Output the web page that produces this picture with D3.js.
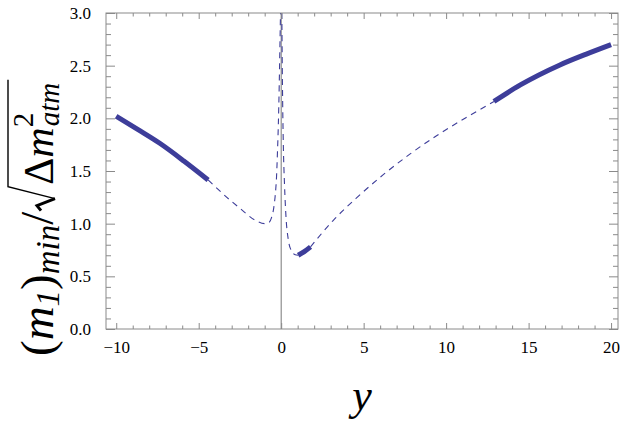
<!DOCTYPE html>
<html>
<head>
<meta charset="utf-8">
<script src="https://cdn.jsdelivr.net/npm/d3@7"></script>
<style>
  body { margin: 0; background: #fff; }
  svg { display: block; }
  svg text { font-family: "Liberation Serif", "Times New Roman", "DejaVu Serif", serif; }
</style>
</head>
<body>
<script>
// Declare consts
const width = 620;
const height = 426;
const plotLeft = 106, plotRight = 618, plotTop = 13, plotBottom = 329;
const serif = "'Liberation Serif', 'Times New Roman', 'DejaVu Serif', serif";

// Data, split into solid (thick) and dashed pieces
const solid1X = [-10, -8.7, -7.36, -5.9, -4.43];
const solid1Y = [2.02, 1.895, 1.763, 1.595, 1.415];

const dash1X = [-4.43, -3.11, -2.5, -1.6, -1.0, -0.75, -0.58, -0.45, -0.36, -0.28, -0.22, -0.17, -0.12, -0.08, -0.04];
const dash1Y = [1.415, 1.225, 1.146, 1.035, 1.0, 1.01, 1.06, 1.15, 1.27, 1.45, 1.70, 1.95, 2.3, 2.65, 3.0];

const dash2X = [0.04, 0.06, 0.09, 0.13, 0.2, 0.29, 0.43, 0.63, 0.85, 1.03];
const dash2Y = [3.0, 2.6, 2.15, 1.75, 1.38, 1.07, 0.85, 0.74, 0.705, 0.70];

const solid2X = [1.03, 1.4, 1.78];
const solid2Y = [0.70, 0.735, 0.78];

const dash3X = [1.78, 3.15, 4.57, 6.19, 7.8, 9.42, 11.24, 12.9];
const dash3Y = [0.78, 1.03, 1.245, 1.465, 1.66, 1.835, 2.01, 2.16];

const solid3X = [12.9, 14.5, 16.9, 18.5, 20];
const solid3Y = [2.16, 2.317, 2.507, 2.61, 2.70];

const xMajor = [-10, -5, 0, 5, 10, 15, 20];
const yMajor = [0, 0.5, 1, 1.5, 2, 2.5, 3];

const zip = (xs, ys) => xs.map((x, i) => ({x: x, y: ys[i]}));

// Scales
const xScale = d3.scaleLinear().domain([-10.62, 20.42]).range([plotLeft, plotRight]);
const yScale = d3.scaleLinear().domain([0, 3]).range([plotBottom, plotTop]);

const svg = d3.select("body").append("svg")
    .attr("width", width)
    .attr("height", height);

svg.append("defs").append("clipPath").attr("id", "clip")
  .append("rect").attr("x", plotLeft).attr("y", plotTop)
  .attr("width", plotRight - plotLeft).attr("height", plotBottom - plotTop);

const frameColor = "#8a8a8a";

// vertical line at y = 0
svg.append("line")
    .attr("x1", xScale(0)).attr("x2", xScale(0))
    .attr("y1", plotTop).attr("y2", plotBottom)
    .attr("stroke", "#777").attr("stroke-width", 1);

// Lines
const line = d3.line()
    .x(d => xScale(d.x))
    .y(d => yScale(d.y))
    .curve(d3.curveMonotoneX);

const lineColor = "#3d3d9a";
const plot = svg.append("g").attr("clip-path", "url(#clip)");

[[dash1X, dash1Y], [dash2X, dash2Y], [dash3X, dash3Y]].forEach(([xs, ys]) => {
  plot.append("path")
      .datum(zip(xs, ys))
      .attr("fill", "none")
      .attr("stroke", lineColor)
      .attr("stroke-width", 1.1)
      .attr("stroke-dasharray", "6,5")
      .attr("d", line);
});

[[solid1X, solid1Y], [solid2X, solid2Y], [solid3X, solid3Y]].forEach(([xs, ys]) => {
  plot.append("path")
      .datum(zip(xs, ys))
      .attr("fill", "none")
      .attr("stroke", lineColor)
      .attr("stroke-width", 5)
      .attr("d", line);
});

// Axes - ticks inside the frame on all four sides
const xMinor = d3.range(-10, 21, 1).filter(v => v % 5 !== 0);
const yMinor = d3.range(0, 31, 1).map(v => v / 10).filter(v => Math.round(v * 10) % 5 !== 0);

const bottomAxis = d3.axisBottom(xScale).tickValues(xMajor).tickSizeInner(-6).tickSizeOuter(0).tickPadding(12);
const bottomMinor = d3.axisBottom(xScale).tickValues(xMinor).tickSizeInner(-3.5).tickSizeOuter(0).tickFormat("");
const topAxis = d3.axisTop(xScale).tickValues(xMajor).tickSizeInner(-6).tickSizeOuter(0).tickFormat("");
const topMinor = d3.axisTop(xScale).tickValues(xMinor).tickSizeInner(-3.5).tickSizeOuter(0).tickFormat("");
const leftAxis = d3.axisLeft(yScale).tickValues(yMajor).tickSizeInner(-9).tickSizeOuter(0).tickPadding(15).tickFormat(d3.format(".1f"));
const leftMinor = d3.axisLeft(yScale).tickValues(yMinor).tickSizeInner(-5).tickSizeOuter(0).tickFormat("");
const rightAxis = d3.axisRight(yScale).tickValues(yMajor).tickSizeInner(-9).tickSizeOuter(0).tickFormat("");
const rightMinor = d3.axisRight(yScale).tickValues(yMinor).tickSizeInner(-5).tickSizeOuter(0).tickFormat("");

const gB = svg.append("g").attr("transform", "translate(0," + plotBottom + ")");
gB.call(bottomAxis); gB.append("g").call(bottomMinor);
const gT = svg.append("g").attr("transform", "translate(0," + plotTop + ")");
gT.call(topAxis); gT.append("g").call(topMinor);
const gL = svg.append("g").attr("transform", "translate(" + plotLeft + ",0)");
gL.call(leftAxis); gL.append("g").call(leftMinor);
const gR = svg.append("g").attr("transform", "translate(" + plotRight + ",0)");
gR.call(rightAxis); gR.append("g").call(rightMinor);

svg.selectAll(".domain").remove();
svg.selectAll(".tick line").attr("stroke", frameColor);
svg.selectAll(".tick text")
    .attr("fill", "#000")
    .style("font-family", serif)
    .style("font-size", "17px");

// frame
svg.append("rect")
    .attr("x", plotLeft).attr("y", plotTop)
    .attr("width", plotRight - plotLeft).attr("height", plotBottom - plotTop)
    .attr("fill", "none")
    .attr("stroke", frameColor)
    .attr("stroke-width", 1);

// x title
svg.append("text")
    .attr("x", (plotLeft + plotRight) / 2)
    .attr("y", 410)
    .attr("text-anchor", "middle")
    .style("font-family", serif)
    .style("font-size", "44px")
    .style("font-style", "italic")
    .text("y");

// y title: (m1)min / sqrt(Δm²atm), rotated
const yt = svg.append("g")
    .attr("transform", "translate(53,356) rotate(-90)");
const t1 = yt.append("text").attr("x", 0).attr("y", 0)
    .style("font-family", serif).style("font-size", "47px");
t1.append("tspan").text("(");
t1.append("tspan").style("font-style", "italic").text("m");
t1.append("tspan").attr("dy", 6).style("font-size", "33px").style("font-style", "italic").text("1");
t1.append("tspan").attr("dy", -6).text(")");
t1.append("tspan").attr("dy", 6).style("font-size", "33px").style("font-style", "italic").text("min");
t1.append("tspan").attr("dy", -6).text("/");
const len1 = t1.node().getComputedTextLength();

const r0 = len1 + 1;
const t2 = yt.append("text").attr("x", r0 + 26).attr("y", 0)
    .style("font-family", serif).style("font-size", "42px");
t2.append("tspan").text("Δ");
t2.append("tspan").style("font-style", "italic").text("m");
const mEnd = t2.node().getComputedTextLength();
t2.append("tspan").attr("dy", -20).style("font-size", "29px").text("2");
t2.append("tspan").attr("x", r0 + 26 + mEnd + 1).attr("dy", 26).style("font-size", "29px").style("font-style", "italic").text("atm");
const len2 = t2.node().getBBox().width;

yt.append("path")
    .attr("d", "M" + r0 + ",-12 L" + (r0 + 5) + ",-16 L" + (r0 + 12) + ",2")
    .attr("fill", "none").attr("stroke", "#000").attr("stroke-width", 3);
yt.append("path")
    .attr("d", "M" + (r0 + 12) + ",2 L" + (r0 + 24) + ",-45 H" + (r0 + 26 + len2 + 3))
    .attr("fill", "none").attr("stroke", "#000").attr("stroke-width", 1.4);
</script>
</body>
</html>
